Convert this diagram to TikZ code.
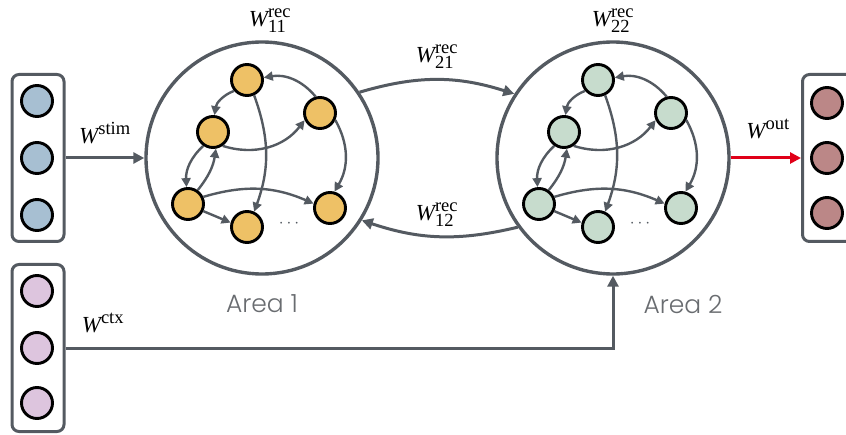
\documentclass[tikz,border=0pt]{standalone}
\usepackage{fontspec}
\setmainfont{Liberation Serif}
\newfontfamily\areafont{Poppins}[UprightFont={* Light}]
\usetikzlibrary{arrows.meta}

\definecolor{edgegray}{RGB}{84,90,97}
\definecolor{nodeorange}{RGB}{238,193,102}
\definecolor{nodegreen}{RGB}{199,220,205}
\definecolor{nodeblue}{RGB}{167,191,210}
\definecolor{nodepurple}{RGB}{221,197,222}
\definecolor{nodebrown}{RGB}{187,135,135}
\definecolor{outred}{RGB}{224,0,24}
\definecolor{labelgray}{RGB}{105,108,112}

% weight symbols with large scripts
\newcommand\wscript[1]{\hbox{\fontsize{18.5}{19}\selectfont #1}}
\newcommand\wrec[1]{$\mathit{W}^{\wscript{rec}}_{\wscript{#1}}$}
\newcommand\wio[1]{$\mathit{W}^{\wscript{#1}}$}

\tikzset{
  unit/.style={circle, draw=black, line width=2.9pt, minimum size=31pt, inner sep=0pt},
  areacircle/.style={circle, draw=edgegray, line width=3.4pt, minimum size=232pt, inner sep=0pt},
  layerbox/.style={draw=edgegray, line width=3pt, rounded corners=7pt,
    minimum width=52pt, minimum height=167pt, inner sep=0pt},
  link/.style={draw=edgegray, line width=3pt, -{Triangle[length=11pt,width=11pt]}},
  outlink/.style={draw=outred, line width=3pt, -{Triangle[length=11pt,width=11pt]}},
  synapse/.style={draw=edgegray, line width=2.4pt, -{Triangle[length=9pt,width=9pt]}},
  wlabel/.style={font=\fontsize{23}{25}\selectfont, inner sep=0pt},
  arealabel/.style={font=\areafont\fontsize{25}{28}\selectfont, text=labelgray, inner sep=0pt},
}

% one recurrent area: six units and their recurrent connections
\newcommand\drawnet[4]{%
  \begin{scope}[shift={(#2,#3)}]
    \node[unit, fill=#4] (#1a) at (-15,78) {};
    \node[unit, fill=#4] (#1b) at (58,45) {};
    \node[unit, fill=#4] (#1c) at (-49,26) {};
    \node[unit, fill=#4] (#1d) at (-74,-46) {};
    \node[unit, fill=#4] (#1e) at (-15,-69) {};
    \node[unit, fill=#4] (#1f) at (68,-50) {};
    \node[text=edgegray, font=\fontsize{18}{18}\selectfont] (#1dots) at (27,-66) {$\cdots$};
    \draw[synapse] (#1b.105) to[bend right=30] (#1a.8);
    \draw[synapse] (#1a.220) to[bend right=30] (#1c.85);
    \draw[synapse] (#1c.-55) to[bend right=35] (#1b.205);
    \draw[synapse] (#1a.-65) to[bend left=20] (#1e.65);
    \draw[synapse] (#1b.-25) to[bend left=30] (#1f.75);
    \draw[synapse] (#1c.235) to[bend right=25] (#1d.95);
    \draw[synapse] (#1d.55) to[bend right=15] (#1c.-80);
    \draw[synapse] (#1d.25) to[bend left=20] (#1f.165);
    \draw[synapse] (#1d.-25) -- (#1e.165);
  \end{scope}}

\begin{document}
\begin{tikzpicture}[x=1pt, y=1pt]
  \useasboundingbox (0,0) rectangle (846,434);
  \clip (0,0) rectangle (846,434);

  % recurrent areas
  \node[areacircle] (a1) at (262,276) {};
  \node[areacircle] (a2) at (613,276) {};
  \drawnet{p}{262}{276}{nodeorange}
  \drawnet{q}{613}{276}{nodegreen}

  % stimulus input layer
  \node[layerbox] (stimbox) at (38,276) {};
  \node[unit, fill=nodeblue] (s1) at (37,333) {};
  \node[unit, fill=nodeblue] (s2) at (37,276) {};
  \node[unit, fill=nodeblue] (s3) at (37,219) {};

  % context input layer
  \node[layerbox] (ctxbox) at (38,86) {};
  \node[unit, fill=nodepurple] (c1) at (37,143) {};
  \node[unit, fill=nodepurple] (c2) at (37,86) {};
  \node[unit, fill=nodepurple] (c3) at (37,31) {};

  % output layer
  \node[layerbox] (outbox) at (828.5,276) {};
  \node[unit, fill=nodebrown] (o1) at (827,331) {};
  \node[unit, fill=nodebrown] (o2) at (827,276) {};
  \node[unit, fill=nodebrown] (o3) at (827,221) {};

  % connections between layers
  \draw[link] (stimbox.east) -- (a1.west);
  \draw[link] (ctxbox.east) -| (a2.south);
  \draw[outlink] (a2.east) -- (outbox.west);
  \draw[link] (a1.34) to[bend left=17] (a2.147);
  \draw[link] (a2.216) to[bend left=16] (a1.-32);

  % weight labels
  \node[wlabel] (w11) at (270,413) {\wrec{11}};
  \node[wlabel] (w22) at (613,413) {\wrec{22}};
  \node[wlabel] (w21) at (437,377) {\wrec{21}};
  \node[wlabel] (w12) at (437,219) {\wrec{12}};
  \node[wlabel] (wstim) at (105,301) {\wio{stim}};
  \node[wlabel] (wctx) at (103,111) {\wio{ctx}};
  \node[wlabel] (wout) at (768,305) {\wio{out}};

  % area names
  \node[arealabel] (l1) at (262,130) {Area 1};
  \node[arealabel] (l2) at (683,130) {Area 2};
\end{tikzpicture}
\end{document}
